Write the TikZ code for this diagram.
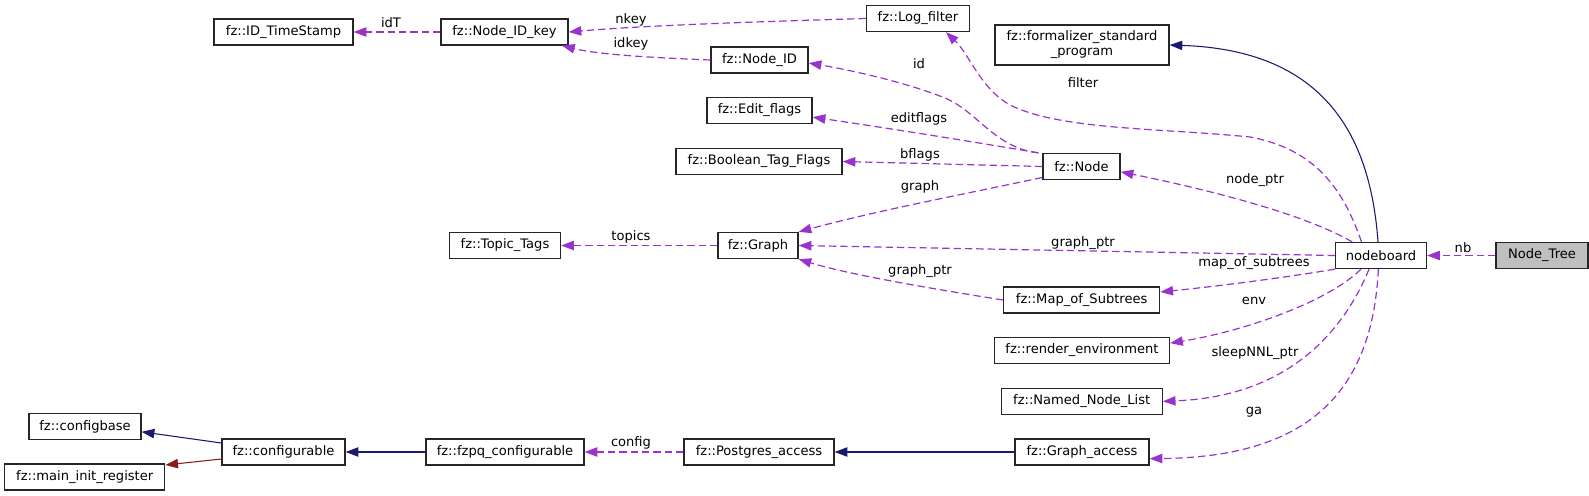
\documentclass[tikz,border=0pt]{standalone}
\usepackage{fontspec}
\setmainfont{DejaVu Sans}
\usetikzlibrary{arrows.meta}
\definecolor{dorchid}{HTML}{9A32CD}
\definecolor{mnblue}{HTML}{191970}
\definecolor{fbrick}{HTML}{8B1A1A}
\definecolor{nodegrey}{HTML}{BFBFBF}
\begin{document}
\begin{tikzpicture}[x=0.75pt,y=-0.75pt,
  box/.style={draw=black!85,line width=1pt,fill=white,inner sep=0pt,minimum height=19.5pt,
    font=\fontsize{9.8pt}{11.25pt}\selectfont,align=center},
  lbl/.style={inner sep=0pt,font=\fontsize{9.8pt}{11.25pt}\selectfont},
  dep/.style={draw=dorchid,line width=0.9pt,dash pattern=on 5.5pt off 3pt,
    -{Triangle[length=9.5pt,width=7pt]}},
  inh/.style={draw=mnblue,line width=0.8pt,-{Triangle[length=9.5pt,width=7pt]}},
  prot/.style={draw=fbrick,line width=0.8pt,-{Triangle[length=9.5pt,width=7pt]}}]
\useasboundingbox (0,0) rectangle (1589,496);

% nodes
\node[box,minimum width=104.25pt] (idts) at (283.5,32) {fz::ID\_TimeStamp};
\node[box,minimum width=95.25pt] (nidkey) at (504.5,32) {fz::Node\_ID\_key};
\node[box,minimum width=77.25pt] (logf) at (918,18.5) {fz::Log\_filter};
\node[box,minimum width=130.5pt,minimum height=30pt] (fsp) at (1082,45) {fz::formalizer\_standard\\\_program};
\node[box,minimum width=72.75pt] (nid) at (759.5,60) {fz::Node\_ID};
\node[box,minimum width=78.75pt] (ef) at (759.5,110.5) {fz::Edit\_flags};
\node[box,minimum width=124.5pt] (btf) at (759,161.5) {fz::Boolean\_Tag\_Flags};
\node[box,minimum width=57.75pt] (nd) at (1081.5,166.5) {fz::Node};
\node[box,minimum width=83.25pt] (tt) at (505,245.5) {fz::Topic\_Tags};
\node[box,minimum width=60pt] (gr) at (758,245.5) {fz::Graph};
\node[box,minimum width=68.25pt] (nb) at (1381,255.5) {nodeboard};
\node[box,minimum width=69pt,fill=nodegrey] (ntree) at (1542,255.5) {Node\_Tree};
\node[box,minimum width=117pt] (mos) at (1081.7,300) {fz::Map\_of\_Subtrees};
\node[box,minimum width=131.25pt] (renv) at (1082,350.5) {fz::render\_environment};
\node[box,minimum width=120.75pt] (nnl) at (1081.7,401.3) {fz::Named\_Node\_List};
\node[box,minimum width=100.5pt] (gacc) at (1082,452) {fz::Graph\_access};
\node[box,minimum width=112.5pt] (pg) at (759,452) {fz::Postgres\_access};
\node[box,minimum width=118.5pt] (fzpq) at (505,452) {fz::fzpq\_configurable};
\node[box,minimum width=92.25pt] (cfg) at (283.5,452) {fz::configurable};
\node[box,minimum width=84pt] (cb) at (85,426.5) {fz::configbase};
\node[box,minimum width=120pt] (mir) at (84.7,477) {fz::main\_init\_register};

% connectors
\draw[dep] (nidkey.west) -- (idts.east);
\draw[dep] (logf.west) .. controls (780,21) and (650,25) .. (nidkey.east);
\draw[dep] (nid.west) .. controls (660,58) and (600,55) .. ([xshift=-5pt]nidkey.south east);
\draw[dep] ([xshift=-3pt]nd.north west) .. controls (995,148) and (978,112) .. (945,98)
   .. controls (905,82) and (850,70) .. ([yshift=-2.25pt]nid.east);
\draw[dep] ([xshift=-3pt]nd.north west) .. controls (950,138) and (880,127) .. ([yshift=-5pt]ef.east);
\draw[dep] (nd.west) -- (btf.east);
\draw[dep] ([yshift=2pt]nd.south west) .. controls (960,195) and (880,210) .. (gr.north east);
\draw[dep] ([xshift=20pt]nb.north west) .. controls (1345,195) and (1320,150) .. (1250,137)
   .. controls (1160,128) and (1060,130) .. (1010,105)
   .. controls (980,88) and (970,55) .. ([xshift=21pt]logf.south);
\draw[inh] ([xshift=-2.25pt]nb.north) .. controls (1370,130) and (1320,50) .. (fsp.east);
\draw[dep] ([xshift=13pt]nb.north west) .. controls (1300,212) and (1200,188) .. ([yshift=-4pt]nd.east);
\draw[dep] (nb.west) -- (gr.east);
\draw[dep] (mos.west) .. controls (940,290) and (850,275) .. (gr.south east);
\draw[dep] (nb.south west) .. controls (1270,280) and (1200,288) .. ([yshift=6pt]mos.east);
\draw[dep] ([xshift=-15pt]nb.south) .. controls (1330,300) and (1250,330) .. ([yshift=5.5pt]renv.east);
\draw[dep] ([xshift=-9pt]nb.south) .. controls (1340,340) and (1280,397) .. (nnl.east);
\draw[dep] ([xshift=-2pt]nb.south) .. controls (1372,400) and (1300,457) .. ([yshift=-5pt]gacc.east);
\draw[dep] (ntree.west) -- (nb.east);
\draw[dep] (gr.west) -- (tt.east);
\draw[inh] (gacc.west) -- (pg.east);
\draw[dep] (pg.west) -- (fzpq.east);
\draw[inh] (fzpq.west) -- (cfg.east);
\draw[inh] ([yshift=6.75pt]cfg.west) -- ([yshift=-4pt]cb.east);
\draw[prot] ([yshift=-5.25pt]cfg.west) -- ([yshift=9pt]mir.east);

% labels
\node[lbl] (l1) at (391,23) {idT};
\node[lbl] (l2) at (631,20) {nkey};
\node[lbl] (l3) at (631,44) {idkey};
\node[lbl] (l4) at (919,64) {id};
\node[lbl] (l5) at (1083,83) {filter};
\node[lbl] (l6) at (919,119) {editflags};
\node[lbl] (l7) at (920,155) {bflags};
\node[lbl] (l8) at (920,187) {graph};
\node[lbl] (l9) at (1255,180) {node\_ptr};
\node[lbl] (l10) at (1083,243) {graph\_ptr};
\node[lbl] (l11) at (1463,248) {nb};
\node[lbl] (l12) at (631,237) {topics};
\node[lbl] (l13) at (920,271) {graph\_ptr};
\node[lbl] (l14) at (1254,263) {map\_of\_subtrees};
\node[lbl] (l15) at (1254,301) {env};
\node[lbl] (l16) at (1255,353) {sleepNNL\_ptr};
\node[lbl] (l17) at (1254,412) {ga};
\node[lbl] (l18) at (631,443) {config};
\end{tikzpicture}
\end{document}
